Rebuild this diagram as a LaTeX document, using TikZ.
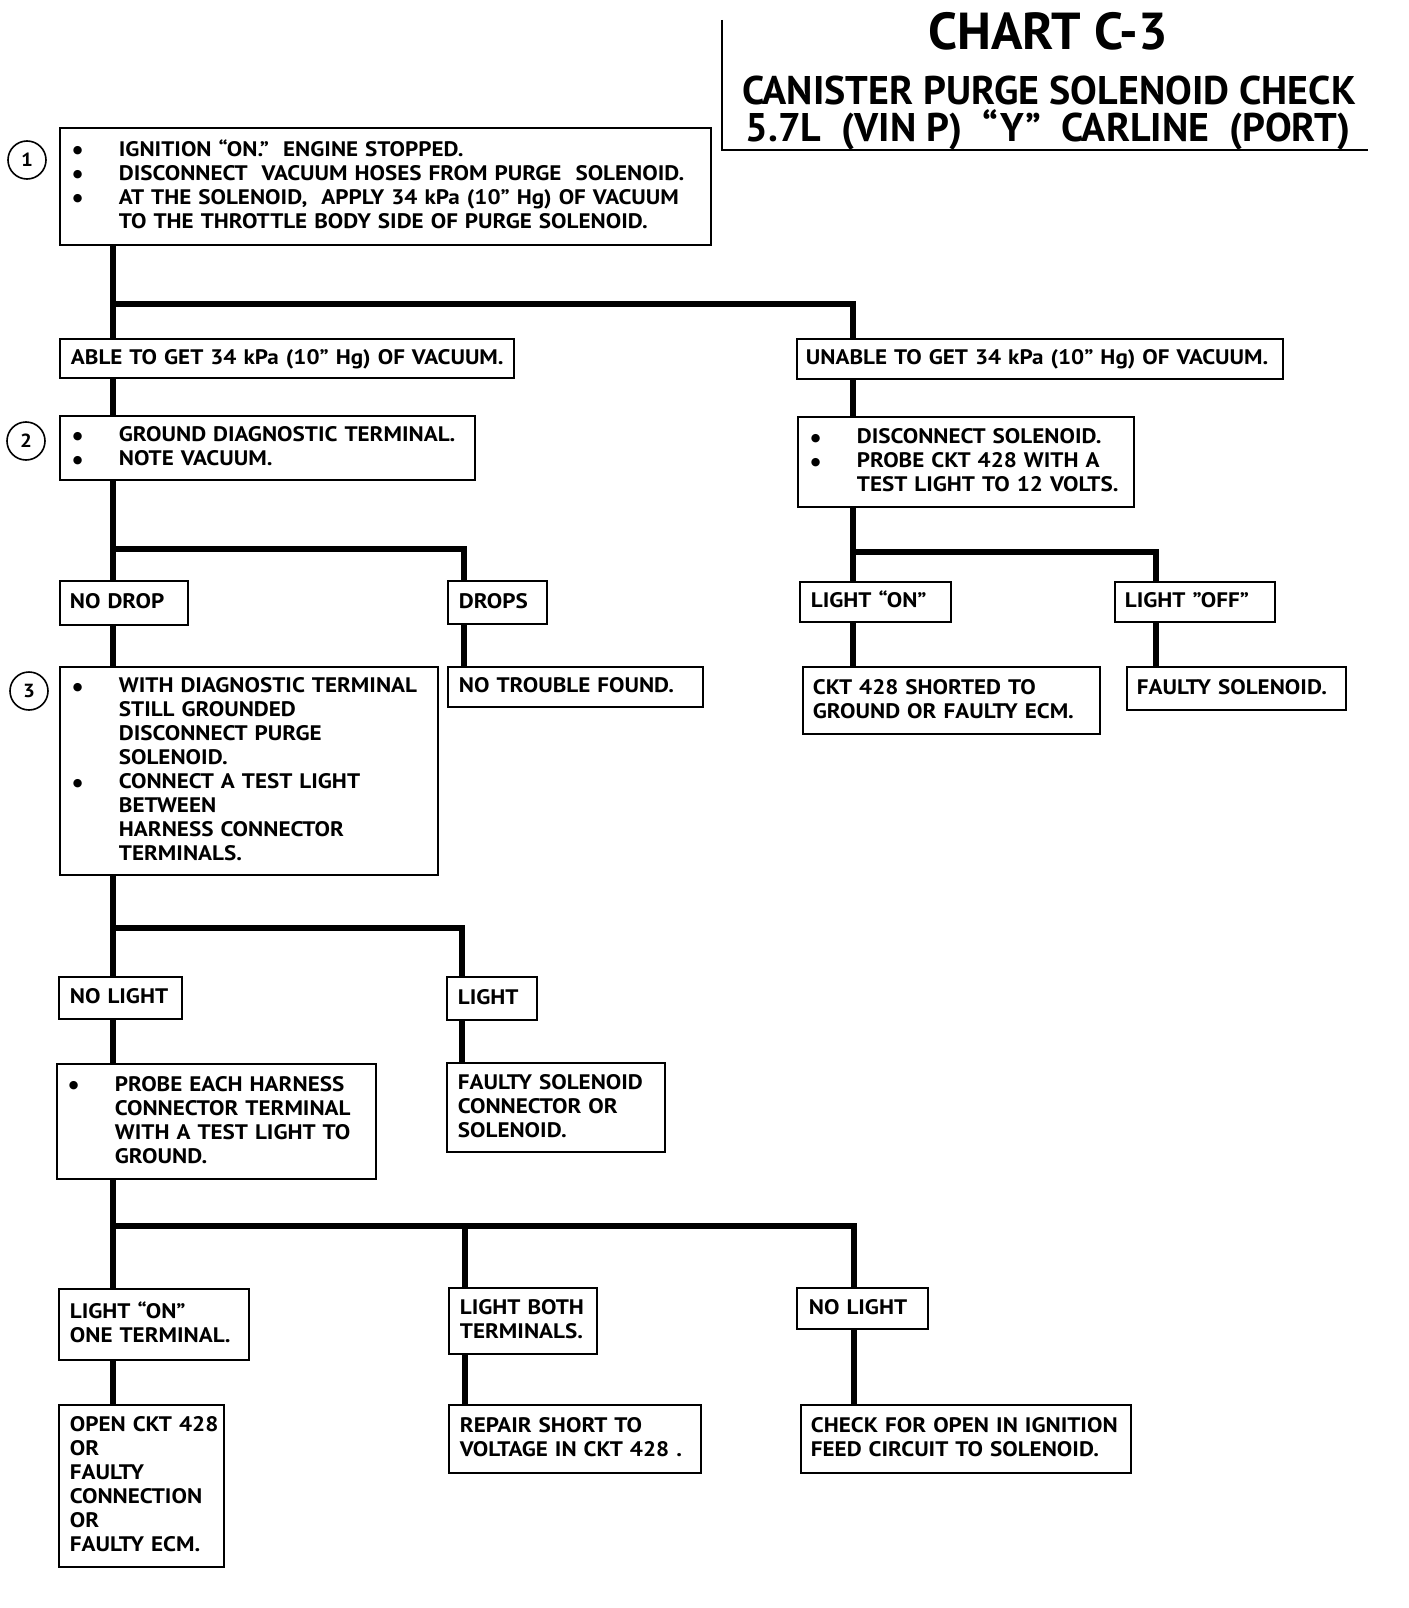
\documentclass[tikz,border=0pt]{standalone}
\usepackage{fontspec}
\setmainfont{PT Sans}[FakeStretch=1.1]
\newfontfamily\titlefont{PT Sans}
\newfontfamily\dotfont{DejaVu Sans}
\newcommand\mystrut{\rule[-6pt]{0pt}{24pt}}
\newcommand\bl{\makebox[46pt][l]{\raisebox{2.5pt}{\dotfont\fontsize{11}{11}\selectfont ●}}}
\newcommand\ind{\hspace*{46pt}}
\newcommand\nb[1]{\mbox{#1}}
\tikzset{
  box/.style={draw, line width=1.8pt, anchor=north west, align=left, inner ysep=0pt,
    font=\fontsize{21}{24}\selectfont\bfseries,
    execute at begin node=\mystrut, execute at end node=\mystrut},
  conn/.style={line width=5.5pt, line join=miter},
  circ/.style={draw, circle, line width=1.6pt, minimum size=38pt, inner sep=0pt,
    font=\fontsize{19}{19}\selectfont\bfseries},
  ttl/.style={anchor=base, inner sep=0pt, font=\titlefont\fontsize{40}{40}\selectfont\bfseries,
    text height=31pt, text depth=5pt},
}
\begin{document}
\begin{tikzpicture}[x=1pt,y=-1pt]
\useasboundingbox (0,0) rectangle (1408,1608);
% title
\node[anchor=base, inner sep=0pt, font=\titlefont\fontsize{52}{52}\selectfont\bfseries, text height=38pt, text depth=2pt] (title) at (1048,50) {CHART C-3};
\node[ttl] (sub1) at (1049,105) {CANISTER PURGE SOLENOID CHECK};
\node[ttl] (sub2) at (1048,142) {5.7L \ (VIN P) \ “Y” \ CARLINE \ (PORT)};
\coordinate (tA) at (722,20);
\coordinate (tB) at (722,150);
\coordinate (tC) at (1368,150);
\draw[line width=1.6pt] (tA) -- (tB) -- (tC);

% boxes
\node[box, inner xsep=13pt, minimum width=651pt, minimum height=117pt, text width=625pt] (b1) at (59,127)
 {\nb{\bl IGNITION “ON.” \ ENGINE STOPPED.}\\
  \nb{\bl DISCONNECT \ VACUUM HOSES FROM PURGE \ SOLENOID.}\\
  \nb{\bl AT THE SOLENOID, \ APPLY 34 kPa (10” Hg) OF VACUUM}\\
  \nb{\ind TO THE THROTTLE BODY SIDE OF PURGE SOLENOID.}};
\node[circ] (c1) at (27,160) {1};

\node[box, inner xsep=11pt, minimum width=454pt, minimum height=39pt, text width=432pt] (able) at (59,338)
 {\nb{ABLE TO GET 34 kPa (10” Hg) OF VACUUM.}};
\node[box, inner xsep=9pt, minimum width=486pt, minimum height=40pt, text width=468pt] (unable) at (796,338)
 {\nb{UNABLE TO GET 34 kPa (10” Hg) OF VACUUM.}};

\node[box, inner xsep=13pt, minimum width=415pt, minimum height=64pt, text width=389pt] (b2) at (59,415)
 {\nb{\bl GROUND DIAGNOSTIC TERMINAL.}\\ \nb{\bl NOTE VACUUM.}};
\node[circ] (c2) at (26,441) {2};

\node[box, inner xsep=13pt, minimum width=336pt, minimum height=90pt, text width=310pt] (r2) at (797,416)
 {\nb{\bl DISCONNECT SOLENOID.}\\ \nb{\bl PROBE CKT 428 WITH A}\\ \nb{\ind TEST LIGHT TO 12 VOLTS.}};

\node[box, inner xsep=10pt, minimum width=128pt, minimum height=44pt, text width=108pt] (nodrop) at (59,580) {\nb{NO DROP}};
\node[box, inner xsep=11pt, minimum width=99pt, minimum height=43pt, text width=77pt] (drops) at (447,580) {\nb{DROPS}};

\node[box, inner xsep=13pt, minimum width=378pt, minimum height=208pt, text width=352pt] (b3) at (59,666)
 {\nb{\bl WITH DIAGNOSTIC TERMINAL}\\ \nb{\ind STILL GROUNDED}\\ \nb{\ind DISCONNECT PURGE}\\ \nb{\ind SOLENOID.}\\
  \nb{\bl CONNECT A TEST LIGHT}\\ \nb{\ind BETWEEN}\\ \nb{\ind HARNESS CONNECTOR}\\ \nb{\ind TERMINALS.}};
\node[circ] (c3) at (29,691) {3};

\node[box, inner xsep=11pt, minimum width=255pt, minimum height=40pt, text width=233pt] (ntf) at (447,666) {\nb{NO TROUBLE FOUND.}};

\node[box, inner xsep=11pt, minimum width=151pt, minimum height=40pt, text width=129pt] (lon) at (799,581) {\nb{LIGHT “ON”}};
\node[box, inner xsep=10pt, minimum width=160pt, minimum height=40pt, text width=140pt] (loff) at (1114,581) {\nb{LIGHT ”OFF”}};
\node[box, inner xsep=10pt, minimum width=297pt, minimum height=67pt, text width=277pt] (ckt) at (802,666)
 {\nb{CKT 428 SHORTED TO}\\ \nb{GROUND OR FAULTY ECM.}};
\node[box, inner xsep=10pt, minimum width=219pt, minimum height=43pt, text width=199pt] (fsol) at (1126,666) {\nb{FAULTY SOLENOID.}};

\node[box, inner xsep=11pt, minimum width=123pt, minimum height=42pt, text width=101pt] (nl1) at (58,976) {\nb{NO LIGHT}};
\node[box, inner xsep=11pt, minimum width=90pt, minimum height=43pt, text width=68pt] (light) at (446,976) {\nb{LIGHT}};

\node[box, inner xsep=12pt, minimum width=319pt, minimum height=115pt, text width=295pt] (probe) at (56,1063)
 {\nb{\bl PROBE EACH HARNESS}\\ \nb{\ind CONNECTOR TERMINAL}\\ \nb{\ind WITH A TEST LIGHT TO}\\ \nb{\ind GROUND.}};
\node[box, inner xsep=11pt, minimum width=218pt, minimum height=89pt, text width=196pt] (fsc) at (446,1062)
 {\nb{FAULTY SOLENOID}\\ \nb{CONNECTOR OR}\\ \nb{SOLENOID.}};

\node[box, inner xsep=11pt, minimum width=190pt, minimum height=71pt, text width=168pt] (lon1) at (58,1288)
 {\nb{LIGHT “ON”}\\ \nb{ONE TERMINAL.}};
\node[box, inner xsep=11pt, minimum width=148pt, minimum height=66pt, text width=126pt] (lboth) at (448,1287)
 {\nb{LIGHT BOTH}\\ \nb{TERMINALS.}};
\node[box, inner xsep=12pt, minimum width=131pt, minimum height=41pt, text width=107pt] (nl2) at (796,1287) {\nb{NO LIGHT}};

\node[box, inner xsep=11pt, minimum width=165pt, minimum height=162pt, text width=143pt] (open) at (58,1404)
 {\nb{OPEN CKT 428}\\ \nb{OR}\\ \nb{FAULTY}\\ \nb{CONNECTION}\\ \nb{OR}\\ \nb{FAULTY ECM.}};
\node[box, inner xsep=11pt, minimum width=252pt, minimum height=68pt, text width=230pt] (repair) at (448,1404)
 {\nb{REPAIR SHORT TO}\\ \nb{VOLTAGE IN CKT 428 .}};
\node[box, inner xsep=10pt, minimum width=330pt, minimum height=68pt, text width=310pt] (check) at (800,1404)
 {\nb{CHECK FOR OPEN IN IGNITION}\\ \nb{FEED CIRCUIT TO SOLENOID.}};

% junctions
\coordinate (j1) at (113,304);  \coordinate (j1r) at (853,304);
\coordinate (j2) at (113,549);  \coordinate (j2r) at (464,549);
\coordinate (j3) at (853,552);  \coordinate (j3r) at (1156,552);
\coordinate (j4) at (113,928);  \coordinate (j4r) at (462,928);
\coordinate (j5) at (113,1226); \coordinate (j5m) at (465,1226); \coordinate (j5r) at (854,1226);

% connectors
\draw[conn] (b1.south -| j1) -- (able.north -| j1);
\draw[conn] (j1) -- (j1r) -- (unable.north -| j1r);
\draw[conn] (able.south -| j1) -- (b2.north -| j1);
\draw[conn] (unable.south -| j1r) -- (r2.north -| j1r);

\draw[conn] (b2.south -| j2) -- (nodrop.north -| j2);
\draw[conn] (j2) -- (j2r) -- (drops.north -| j2r);
\draw[conn] (nodrop.south -| j2) -- (b3.north -| j2);
\draw[conn] (drops.south -| j2r) -- (ntf.north -| j2r);

\draw[conn] (r2.south -| j3) -- (lon.north -| j3);
\draw[conn] (j3) -- (j3r) -- (loff.north -| j3r);
\draw[conn] (lon.south -| j3) -- (ckt.north -| j3);
\draw[conn] (loff.south -| j3r) -- (fsol.north -| j3r);

\draw[conn] (b3.south -| j4) -- (nl1.north -| j4);
\draw[conn] (j4) -- (j4r) -- (light.north -| j4r);
\draw[conn] (nl1.south -| j4) -- (probe.north -| j4);
\draw[conn] (light.south -| j4r) -- (fsc.north -| j4r);

\draw[conn] (probe.south -| j5) -- (lon1.north -| j5);
\draw[conn] (j5) -- (j5r) -- (nl2.north -| j5r);
\draw[conn] (j5m) -- (lboth.north -| j5m);
\draw[conn] (lon1.south -| j5) -- (open.north -| j5);
\draw[conn] (lboth.south -| j5m) -- (repair.north -| j5m);
\draw[conn] (nl2.south -| j5r) -- (check.north -| j5r);
\end{tikzpicture}
\end{document}
